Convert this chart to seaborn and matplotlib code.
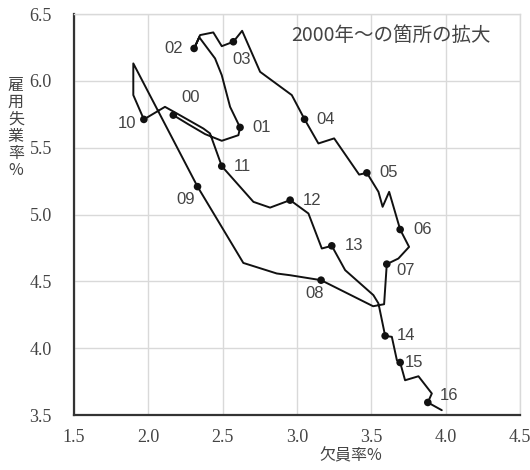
import numpy as np
import pandas as pd
import seaborn as sns
import matplotlib.pyplot as plt

# 欠員率(%) と 雇用失業率(%) の推移, 2000年以降 (折れ線の頂点を図から読み取り)
vacancy = [2.168, 2.267, 2.382, 2.494, 2.606, 2.617, 2.550, 2.494, 2.449, 2.343,
           2.308, 2.348, 2.437, 2.494, 2.572, 2.631, 2.752, 2.965, 3.051, 3.144,
           3.250, 3.418, 3.470, 3.548, 3.576, 3.620, 3.694, 3.754, 3.682, 3.604,
           3.586, 3.512, 3.162, 2.954, 2.864, 2.639, 2.331, 1.899, 1.899, 1.970,
           2.112, 2.191, 2.370, 2.415, 2.494, 2.707, 2.819, 2.954, 3.077, 3.167,
           3.234, 3.324, 3.514, 3.548, 3.593, 3.638, 3.672, 3.694, 3.727, 3.817,
           3.907, 3.880, 3.974]
unemp = [5.744, 5.677, 5.602, 5.552, 5.594, 5.652, 5.806, 6.043, 6.168, 6.326,
         6.243, 6.343, 6.363, 6.260, 6.293, 6.375, 6.068, 5.894, 5.713, 5.532,
         5.570, 5.299, 5.312, 5.170, 5.058, 5.170, 4.888, 4.758, 4.671, 4.629,
         4.329, 4.314, 4.509, 4.546, 4.559, 4.638, 5.209, 6.131, 5.894, 5.712,
         5.806, 5.757, 5.644, 5.607, 5.362, 5.095, 5.052, 5.108, 5.008, 4.746,
         4.766, 4.584, 4.397, 4.335, 4.092, 4.085, 3.910, 3.893, 3.760, 3.790,
         3.661, 3.594, 3.536]

# 年ラベルの付く点 (上の配列の添字)
year_labels = ["00", "01", "02", "03", "04", "05", "06", "07", "08",
               "09", "10", "11", "12", "13", "14", "15", "16"]
year_idx = [0, 5, 10, 14, 18, 22, 26, 29, 32, 36, 39, 44, 47, 50, 54, 57, 61]

xticks = [1.5, 2.0, 2.5, 3.0, 3.5, 4.0, 4.5]
yticks = [3.5, 4.0, 4.5, 5.0, 5.5, 6.0, 6.5]

# label offsets in pixels (dx, dy)
label_off = {"00": (17, 18), "01": (22, 0), "02": (-20, 0), "03": (8, -18),
             "04": (21, 0), "05": (22, 0), "06": (22, 0), "07": (19, -6),
             "08": (-6, -13), "09": (-12, -13), "10": (-17, -4), "11": (21, 0),
             "12": (22, 0), "13": (22, 0), "14": (21, 0), "15": (14, 0),
             "16": (21, 7)}

df = pd.DataFrame({"vacancy": vacancy, "unemp": unemp})
pts = df.iloc[year_idx].copy()
pts["label"] = year_labels

sns.set_style("white")
cjk = ["Noto Sans CJK JP", "DejaVu Sans"]
num_font = ["Liberation Sans Narrow", "Liberation Sans", "DejaVu Sans"]
tick_font = ["Liberation Serif", "DejaVu Serif"]

fig = plt.figure(figsize=(5.3, 4.7), dpi=100)
ax = fig.add_axes([0.1396, 0.117, 0.8415, 0.853])

sns.lineplot(data=df, x="vacancy", y="unemp", sort=False, estimator=None,
             color="#111111", linewidth=1.4, ax=ax)
sns.scatterplot(data=pts, x="vacancy", y="unemp", color="#111111", s=30,
                edgecolor="none", zorder=5, ax=ax)

for _, r in pts.iterrows():
    dx, dy = label_off[r["label"]]
    ax.annotate(r["label"], (r["vacancy"], r["unemp"]), xytext=(dx, dy),
                textcoords="offset pixels", ha="center", va="center",
                fontsize=12, color="#444444", family=num_font)

ax.set_xlim(1.5, 4.5)
ax.set_ylim(3.5, 6.5)
ax.set_xticks(xticks)
ax.set_yticks(yticks)
ax.set_xticklabels([f"{v:.1f}" for v in xticks], family=tick_font,
                   fontsize=13, color="#444444")
ax.set_yticklabels([f"{v:.1f}" for v in yticks], family=tick_font,
                   fontsize=13, color="#444444")
ax.grid(True, color="#d9d9d9", linewidth=1)
ax.set_axisbelow(True)
ax.tick_params(axis="both", direction="in", length=5, color="#333333", width=1.2)
ax.tick_params(axis="x", pad=10)
ax.tick_params(axis="y", pad=16)
for s in ["left", "bottom"]:
    ax.spines[s].set_color("#333333")
    ax.spines[s].set_linewidth(1.6)
for s in ["top", "right"]:
    ax.spines[s].set_color("#d9d9d9")
    ax.spines[s].set_linewidth(1)
ax.set_xlabel("")
ax.set_ylabel("")

ax.text(3.63, 6.34, "2000年～の箇所の拡大", ha="center", va="center",
        fontsize=14, color="#444444", family=cjk)
fig.text(0.662, 0.030, "欠員率%", ha="center", va="center",
         fontsize=11.5, color="#444444", family=cjk)
fig.text(0.030, 0.728, "\n".join("雇用失業率%"), ha="center", va="center",
         fontsize=11.5, color="#444444", family=cjk, linespacing=1.0)

fig.savefig("out.png", dpi=100)
